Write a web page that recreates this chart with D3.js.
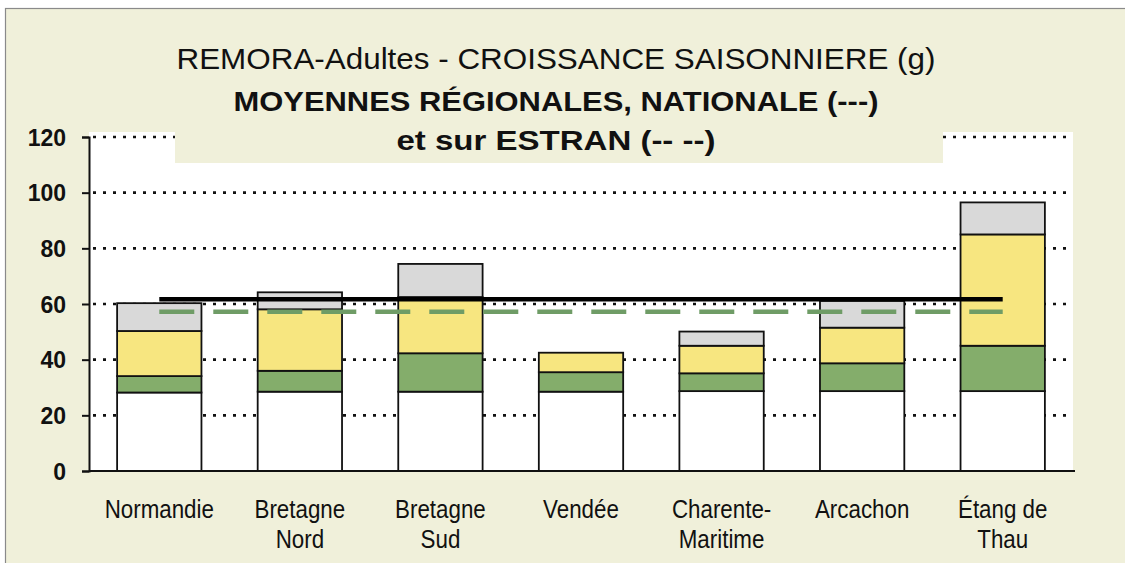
<!DOCTYPE html>
<html>
<head>
<meta charset="utf-8">
<script src="https://cdn.jsdelivr.net/npm/d3@7"></script>
<style>
  html, body { margin: 0; padding: 0; background: #ffffff; }
  svg { display: block; }
</style>
</head>
<body>
<svg id="chart" width="1125" height="563"></svg>
<script>
// ---------------- DATA ----------------
const categories = ["Normandie", "Bretagne Nord", "Bretagne Sud", "Vendée", "Charente-Maritime", "Arcachon", "Étang de Thau"];
const categoryLines = [["Normandie"], ["Bretagne", "Nord"], ["Bretagne", "Sud"], ["Vendée"], ["Charente-", "Maritime"], ["Arcachon"], ["Étang de", "Thau"]];
const baseValues   = [28.2, 28.5, 28.5, 28.5, 28.7, 28.7, 28.7];
const greenValues  = [5.9, 7.5, 13.8, 7.0, 6.4, 10.0, 16.3];
const yellowValues = [16.2, 22.1, 20.2, 7.0, 9.9, 12.8, 40.0];
const greyValues   = [10.0, 6.1, 11.9, 0, 5.1, 9.6, 11.5];
const nationalMean = [61.7, 61.7, 61.7, 61.7, 61.7, 61.7, 61.7];
const estranMean   = [57.2, 57.2, 57.2, 57.2, 57.2, 57.2, 57.2];
const yTicks = [0, 20, 40, 60, 80, 100, 120];
const titleLines = ["REMORA-Adultes - CROISSANCE SAISONNIERE (g)", "MOYENNES RÉGIONALES, NATIONALE (---)", "et sur ESTRAN (--  --)"];

// ---------------- LAYOUT ----------------
const W = 1125, H = 563;
const plot = { left: 89, right: 1073, top: 132, bottom: 471 };
const cream = "#f0f0da";
const svg = d3.select("#chart");

const x = d3.scaleBand().domain(categories).range([plot.left, plot.right]).paddingInner(0.4).paddingOuter(0.2);
const y = d3.scaleLinear().domain([0, 120]).range([471, 137]);

// background
svg.append("rect").attr("x", 0).attr("y", 0).attr("width", W).attr("height", H).attr("fill", "#ffffff");
svg.append("rect").attr("x", 5.5).attr("y", 8.5).attr("width", W).attr("height", H).attr("fill", cream).attr("stroke", "#8a8a8a").attr("stroke-width", 1.2);

// plot area
svg.append("rect").attr("x", plot.left).attr("y", plot.top).attr("width", plot.right - plot.left).attr("height", plot.bottom - plot.top).attr("fill", "#ffffff");

// gridlines
svg.append("g").selectAll("line").data(yTicks.filter(d => d > 0)).join("line")
  .attr("x1", plot.left + 4).attr("x2", plot.right)
  .attr("y1", d => y(d)).attr("y2", d => y(d))
  .attr("stroke", "#111").attr("stroke-width", 2.6).attr("stroke-dasharray", "3,7");

// title box covering top of plot
svg.append("rect").attr("x", 175).attr("y", 120).attr("width", 768).attr("height", 43).attr("fill", cream);

// title
const titleY = [69, 111, 150];
const titleLen = [759, 645, 319];
const titleWeight = ["normal", "bold", "bold"];
const titleSize = [30, 27, 27];
svg.append("g").selectAll("text").data(titleLines).join("text")
  .attr("x", 556).attr("y", (d, i) => titleY[i])
  .attr("text-anchor", "middle")
  .attr("font-family", "'Liberation Sans', Arial, sans-serif")
  .attr("font-size", (d, i) => titleSize[i])
  .attr("font-weight", (d, i) => titleWeight[i])
  .attr("textLength", (d, i) => titleLen[i])
  .attr("lengthAdjust", "spacingAndGlyphs")
  .attr("fill", "#111")
  .text(d => d);

// stacked bars
const rows = categories.map((c, i) => ({ cat: c, base: baseValues[i], green: greenValues[i], yellow: yellowValues[i], grey: greyValues[i] }));
const keys = ["base", "green", "yellow", "grey"];
const fills = { base: "#ffffff", green: "#84ad6b", yellow: "#f7e680", grey: "#d9d9d9" };
const stacked = d3.stack().keys(keys)(rows);
svg.append("g").selectAll("g").data(stacked).join("g")
  .attr("fill", d => fills[d.key])
  .selectAll("rect").data(d => d.filter(s => s[1] - s[0] > 0)).join("rect")
  .attr("x", d => x(d.data.cat))
  .attr("width", x.bandwidth())
  .attr("y", d => y(d[1]))
  .attr("height", d => y(d[0]) - y(d[1]))
  .attr("stroke", "#111").attr("stroke-width", 1.8);

// mean lines
const lineGen = d3.line().x((d, i) => x(categories[i]) + x.bandwidth() / 2).y(d => y(d));
svg.append("path").datum(estranMean).attr("d", lineGen)
  .attr("fill", "none").attr("stroke", "#6f9c66").attr("stroke-width", 4.5).attr("stroke-dasharray", "35,19");
svg.append("path").datum(nationalMean).attr("d", lineGen)
  .attr("fill", "none").attr("stroke", "#000").attr("stroke-width", 4.5);

// axes
const yAxis = d3.axisLeft(y).tickValues(yTicks).tickSize(7).tickPadding(16).tickFormat(d3.format("d"));
const gy = svg.append("g").attr("transform", `translate(${plot.left},0)`).call(yAxis);
gy.select(".domain").attr("stroke", "#111").attr("stroke-width", 2);
gy.selectAll(".tick line").attr("stroke", "#111").attr("stroke-width", 2);
gy.selectAll(".tick text").attr("font-family", "'Liberation Sans', Arial, sans-serif").attr("font-size", 23).attr("font-weight", "bold").attr("fill", "#111").attr("dy", "0.36em");

svg.append("line").attr("x1", plot.left).attr("x2", plot.right + 2).attr("y1", y(0)).attr("y2", y(0)).attr("stroke", "#111").attr("stroke-width", 2);

// category labels (narrow look via horizontal scaling)
const gx = svg.append("g");
categories.forEach((c, i) => {
  const cx = x(c) + x.bandwidth() / 2;
  const t = gx.append("text")
    .attr("transform", `translate(${cx},518) scale(0.86,1)`)
    .attr("text-anchor", "middle")
    .attr("font-family", "'Liberation Sans', Arial, sans-serif")
    .attr("font-size", 26)
    .attr("fill", "#111");
  categoryLines[i].forEach((ln, j) => {
    t.append("tspan").attr("x", 0).attr("dy", j === 0 ? 0 : 30).text(ln);
  });
});
</script>
</body>
</html>
